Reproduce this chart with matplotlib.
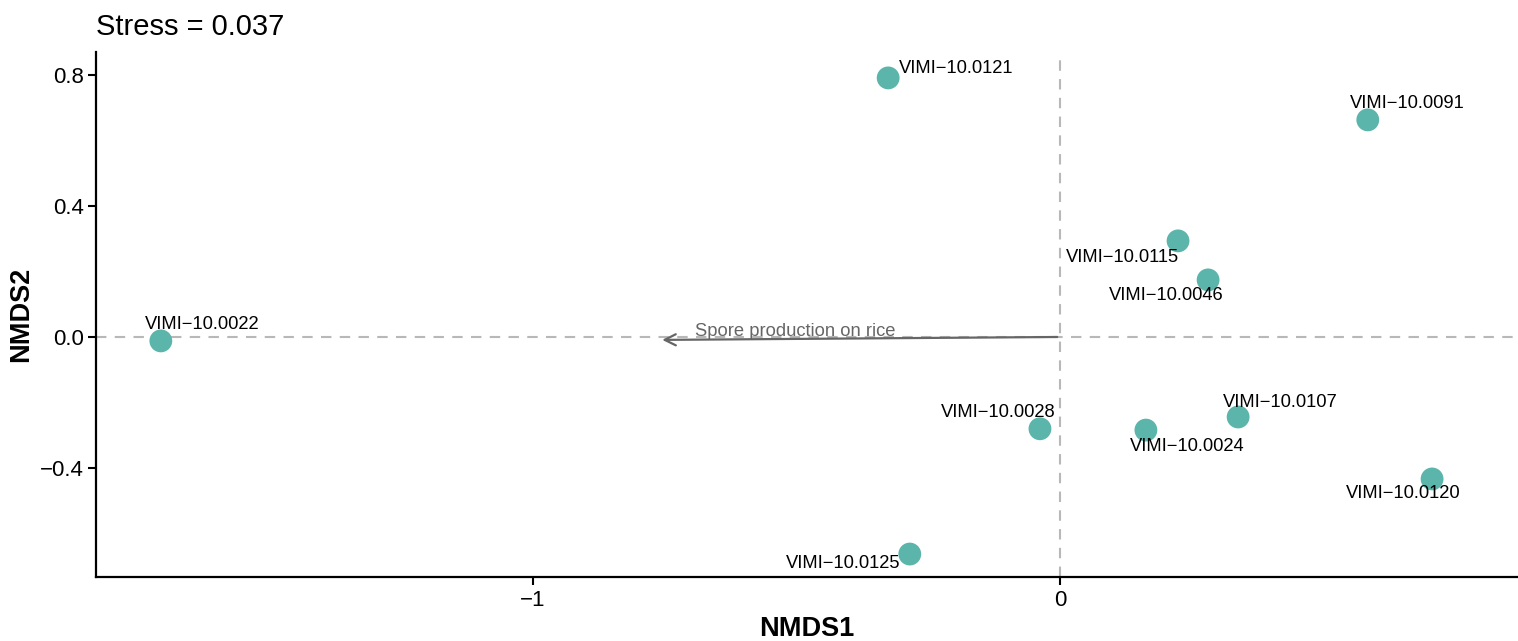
import matplotlib
matplotlib.use("Agg")
import matplotlib.pyplot as plt

plt.rcParams['font.family'] = ['Liberation Sans', 'DejaVu Sans']

labels = ["VIMI\u221210.0121", "VIMI\u221210.0091", "VIMI\u221210.0115", "VIMI\u221210.0046",
          "VIMI\u221210.0022", "VIMI\u221210.0028", "VIMI\u221210.0024", "VIMI\u221210.0107",
          "VIMI\u221210.0120", "VIMI\u221210.0125"]
nmds1 = [-0.326, 0.584, 0.224, 0.281, -1.706, -0.038, 0.163, 0.338, 0.706, -0.285]
nmds2 = [0.790, 0.662, 0.293, 0.174, -0.012, -0.280, -0.284, -0.244, -0.433, -0.662]

# label offsets in pixels (style)
offsets = [(68, 9), (40, 16), (-56, -17), (-42, -16), (41, 16), (-42, 16),
           (41, -16), (42, 14), (-29, -15), (-67, -9)]

vector_name = "Spore production on rice"
vector_x = -0.760
vector_y = -0.009
stress = 0.037

fig = plt.figure(figsize=(15.18, 6.41), dpi=100)
ax = fig.add_axes([96/1518, 1-577/641, 1-96/1518, (577-52)/641])

ax.axhline(0, color="#B8B8B8", lw=1.5, ls=(0, (5, 4)), zorder=1)
ax.axvline(0, color="#B8B8B8", lw=1.5, ls=(0, (5, 4)), zorder=1)

ax.annotate("", xy=(vector_x, vector_y), xytext=(0, 0),
            arrowprops=dict(arrowstyle="->,head_length=0.8,head_width=0.4", color="#666666", lw=1.6),
            zorder=2)
ax.text(vector_x * 0.66, 0.018, vector_name, color="#666666", fontsize=13.2,
        ha="center", va="center", zorder=3)

ax.scatter(nmds1, nmds2, s=270, color="#5BB5AB", edgecolors="none", zorder=4)
for lab, x, y, (dx, dy) in zip(labels, nmds1, nmds2, offsets):
    ax.annotate(lab, (x, y), xytext=(dx * 0.72, dy * 0.72), textcoords="offset points",
                ha="center", va="center", fontsize=13.2, color="black", zorder=5)

ax.set_xlim(-1.829, 0.869)
ax.set_ylim(-0.732, 0.869)
ax.set_xticks([-1, 0])
ax.set_xticklabels(["\u22121", "0"])
ax.set_yticks([0.8, 0.4, 0.0, -0.4])
ax.set_yticklabels(["0.8", "0.4", "0.0", "\u22120.4"])
ax.tick_params(labelsize=16, length=6, width=1.5, colors="black", pad=3)
for s in ["top", "right"]:
    ax.spines[s].set_visible(False)
for s in ["left", "bottom"]:
    ax.spines[s].set_linewidth(1.6)

ax.set_xlabel("NMDS1", fontsize=19.5, fontweight="bold", labelpad=4)
ax.set_ylabel("NMDS2", fontsize=19.5, fontweight="bold", labelpad=4)
ax.set_title(f"Stress = {stress}", loc="left", fontsize=21, pad=12)

fig.savefig("out.png", dpi=100)
